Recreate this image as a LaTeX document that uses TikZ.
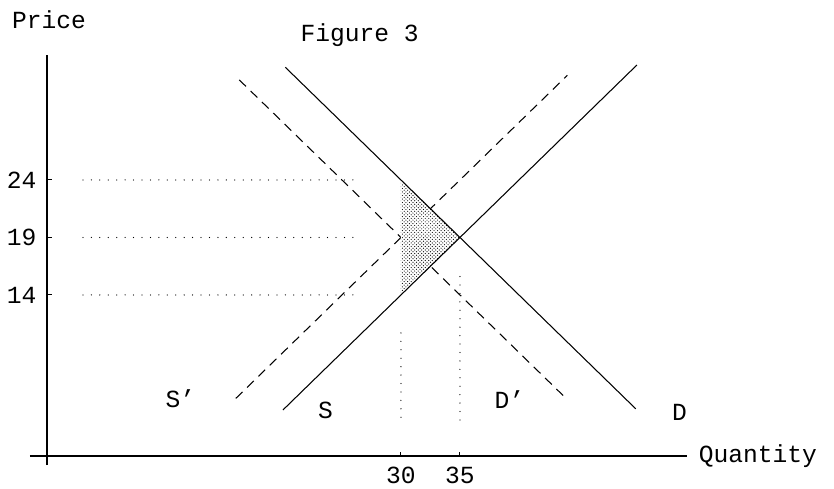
\documentclass[tikz,border=0pt]{standalone}
\usepackage{fontspec}
\setmonofont{Liberation Mono}
\usetikzlibrary{patterns}

\begin{document}
\begin{tikzpicture}[x=0.354cm,y=0.345cm,line width=0.9pt,
  lbl/.style={font=\ttfamily\fontsize{21}{24}\selectfont,inner sep=1pt},
  guide/.style={line width=1.1pt,line cap=round,dash pattern=on 0pt off 7.2pt},
  shifted/.style={dash pattern=on 8pt off 5.5pt}]
  \useasboundingbox (-3.98,-2.87) rectangle (66.7,39.65);
  % axes
  \coordinate (Ytop) at (0,34.9);
  \coordinate (Ybot) at (0,-0.8);
  \coordinate (Xleft) at (-1.44,0);
  \coordinate (Xright) at (54.2,0);
  \draw[line width=1.2pt] (Ybot) -- (Ytop);
  \draw[line width=1.2pt] (Xleft) -- (Xright);
  \node[lbl] (price) at (0.17,37.9) {Price};
  \node[lbl] (title) at (26.5,36.6) {Figure 3};
  \node[lbl,anchor=west] (qty) at (55.1,0) {Quantity};
  % price levels
  \foreach \p in {24,19,14} {
    \coordinate (t\p) at (0.4,\p);
    \draw (0,\p) -- (t\p);
    \node[lbl,anchor=east] (p\p) at (-0.75,\p) {\p};
    \coordinate (ga\p) at (3.05,\p);
    \coordinate (gb\p) at (26.5,\p);
    \draw[guide] (ga\p) -- (gb\p);
  }
  % quantities
  \foreach \q/\top in {30/10.7,35/15.6} {
    \draw (\q,0) -- (\q,0.35);
    \node[lbl] (q\q) at (\q,-1.7) {\q};
    \coordinate (va\q) at (\q,\top);
    \coordinate (vb\q) at (\q,2.96);
    \draw[guide] (va\q) -- (vb\q);
  }
  % shifted demand and supply
  \coordinate (Dp1) at (16.3,32.7);
  \coordinate (Dp2) at (43.9,5.1);
  \coordinate (Sp1) at (16,5);
  \coordinate (Sp2) at (44.1,33.1);
  \draw[shifted] (Dp1) -- (Dp2);
  \draw[shifted] (Sp1) -- (Sp2);
  % welfare loss
  \coordinate (A) at (30,24);
  \coordinate (B) at (35,19);
  \coordinate (C) at (30,14);
  \fill[white] (A) -- (B) -- (C) -- cycle;
  \fill[pattern=crosshatch dots] (A) -- (B) -- (C) -- cycle;
  % demand and supply
  \coordinate (D1) at (20.2,33.8);
  \coordinate (D2) at (49.9,4.1);
  \coordinate (S1) at (20,4);
  \coordinate (S2) at (50,34);
  \draw (D1) -- (D2);
  \draw (S1) -- (S2);
  \node[lbl] (lSp) at (11.3,5.0) {S’};
  \node[lbl] (lS) at (23.6,4.0) {S};
  \node[lbl] (lDp) at (39.2,4.9) {D’};
  \node[lbl] (lD) at (53.6,3.8) {D};
\end{tikzpicture}
\end{document}
